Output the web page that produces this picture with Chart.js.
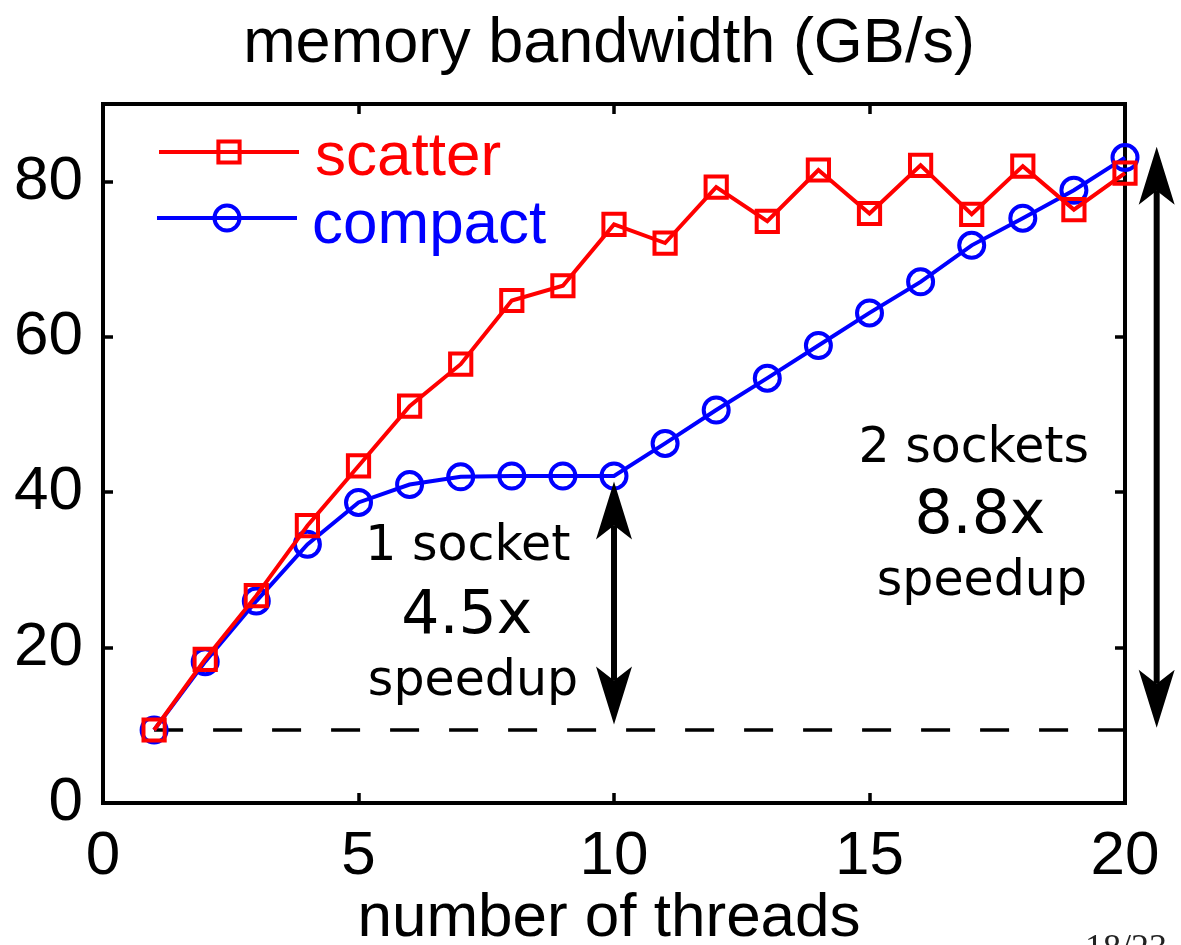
<!DOCTYPE html>
<html>
<head>
<meta charset="utf-8">
<title>memory bandwidth (GB/s)</title>
<script src="https://cdn.jsdelivr.net/npm/chart.js@4/dist/chart.umd.min.js"></script>
<style>
  html, body { margin: 0; padding: 0; background: #fff; }
  #wrap { width: 1181px; height: 945px; position: relative; }
  canvas { display: block; }
</style>
</head>
<body>
<div id="wrap"><canvas id="c" width="1181" height="945"></canvas></div>
<script>
// Measured bandwidth (GB/s) against the number of threads, for two thread placements.
const threads   = [1, 2, 3, 4, 5, 6, 7, 8, 9, 10, 11, 12, 13, 14, 15, 16, 17, 18, 19, 20];
const scatterBW = [9.4, 18.5, 26.7, 35.7, 43.4, 51.1, 56.5, 64.7, 66.6, 74.5,
                   72.1, 79.3, 74.9, 81.5, 75.9, 82.1, 75.8, 82.0, 76.4, 81.1];
const compactBW = [9.4, 18.2, 26.0, 33.3, 38.7, 41.0, 42.0, 42.1, 42.1, 42.1,
                   46.3, 50.6, 54.7, 58.9, 63.1, 67.1, 71.8, 75.3, 78.9, 83.1];

const xTickValues = [0, 5, 10, 15, 20];
const yTickValues = [0, 20, 40, 60, 80];

// Single-thread bandwidth, used as the reference line for the speedups.
const oneThreadBW = compactBW[0];

// Speedup arrows (x position in threads, from/to in GB/s).
const speedupArrows = [
  { x: 10,    from: 10.1, to: 41.4 },
  { x: 20.62, from: 9.7,  to: 84.5 }
];

// Speedup captions, anchored in data units (text baseline).
const speedupNotes = [
  { x: 7.14,  y: 31.35, text: '1 socket',  big: false },
  { x: 7.12,  y: 21.9,  text: '4.5x',      big: true  },
  { x: 7.24,  y: 13.9,  text: 'speedup',   big: false },
  { x: 17.04, y: 43.9,  text: '2 sockets', big: false },
  { x: 17.16, y: 34.8,  text: '8.8x',      big: true  },
  { x: 17.2,  y: 26.8,  text: 'speedup',   big: false }
];

const RED = '#ff0000';
const BLUE = '#0000ff';
const SANS = '"Liberation Sans", Arial, Helvetica, sans-serif';
const NOTE_FONT = '"DejaVu Sans", sans-serif';

const toPoints = (xs, ys) => xs.map((v, i) => ({ x: v, y: ys[i] }));

// Boxed axes with inward tick marks on all four sides.
const framePlugin = {
  id: 'frame',
  beforeDatasetsDraw(chart) {
    const { ctx, chartArea: a, scales: { x, y } } = chart;
    const len = 10;
    ctx.save();
    ctx.strokeStyle = '#000';
    ctx.lineWidth = 3.5;
    ctx.lineCap = 'butt';
    ctx.beginPath();
    x.ticks.forEach(t => {
      const px = Math.round(x.getPixelForValue(t.value));
      ctx.moveTo(px, a.bottom); ctx.lineTo(px, a.bottom - len);
      ctx.moveTo(px, a.top);    ctx.lineTo(px, a.top + len);
    });
    y.ticks.forEach(t => {
      const py = Math.round(y.getPixelForValue(t.value));
      ctx.moveTo(a.left, py);  ctx.lineTo(a.left + len, py);
      ctx.moveTo(a.right, py); ctx.lineTo(a.right - len, py);
    });
    ctx.stroke();
    ctx.lineWidth = 4;
    ctx.lineJoin = 'miter';
    ctx.strokeRect(a.left, a.top, a.right - a.left, a.bottom - a.top);
    ctx.restore();
  }
};

// Title, axis caption, legend, speedup arrows and captions.
const decorPlugin = {
  id: 'decor',
  afterDraw(chart) {
    const { ctx, scales: { x, y } } = chart;
    ctx.save();

    // title
    ctx.fillStyle = '#000';
    ctx.textAlign = 'center';
    ctx.textBaseline = 'alphabetic';
    ctx.font = '63px ' + SANS;
    ctx.fillText('memory bandwidth (GB/s)', 609, 62);

    // x axis caption
    ctx.font = '62px ' + SANS;
    ctx.fillText('number of threads', 609, 936);

    // page number in the corner
    ctx.fillStyle = '#222';
    ctx.font = '36px "Liberation Serif", serif';
    ctx.fillText('18/23', 1126, 959);

    // legend
    const items = [
      { ds: chart.data.datasets[0], lineY: 152, x0: 159, x1: 299, mx: 229, textX: 315, textY: 175 },
      { ds: chart.data.datasets[1], lineY: 218, x0: 157, x1: 297, mx: 227, textX: 312, textY: 243 }
    ];
    items.forEach(it => {
      const ds = it.ds;
      ctx.strokeStyle = ds.borderColor;
      ctx.lineWidth = ds.borderWidth;
      ctx.beginPath();
      ctx.moveTo(it.x0, it.lineY);
      ctx.lineTo(it.x1, it.lineY);
      ctx.stroke();
      ctx.fillStyle = 'rgba(0,0,0,0)';
      ctx.lineWidth = ds.pointBorderWidth;
      Chart.helpers.drawPoint(ctx, {
        pointStyle: ds.pointStyle, radius: ds.pointRadius,
        borderWidth: ds.pointBorderWidth, rotation: 0
      }, it.mx, it.lineY);
      ctx.fillStyle = ds.borderColor;
      ctx.textAlign = 'left';
      ctx.font = '62px ' + SANS;
      ctx.fillText(ds.label, it.textX, it.textY);
    });

    // double-headed speedup arrows
    const L = 58, W = 18, N = 14;
    const head = (px, tip, dir) => {
      ctx.beginPath();
      ctx.moveTo(px, tip);
      ctx.lineTo(px - W, tip - dir * L);
      ctx.lineTo(px, tip - dir * (L - N));
      ctx.lineTo(px + W, tip - dir * L);
      ctx.closePath();
      ctx.fill();
    };
    ctx.fillStyle = '#000';
    ctx.strokeStyle = '#000';
    speedupArrows.forEach(ar => {
      const px = x.getPixelForValue(ar.x);
      const top = y.getPixelForValue(ar.to);
      const bot = y.getPixelForValue(ar.from);
      ctx.lineWidth = 6;
      ctx.beginPath();
      ctx.moveTo(px, top + (L - N));
      ctx.lineTo(px, bot - (L - N));
      ctx.stroke();
      head(px, top, -1);
      head(px, bot, 1);
    });

    // speedup captions
    ctx.textAlign = 'center';
    ctx.textBaseline = 'alphabetic';
    speedupNotes.forEach(n => {
      ctx.font = (n.big ? '60px ' : '49px ') + NOTE_FONT;
      ctx.fillText(n.text, x.getPixelForValue(n.x), y.getPixelForValue(n.y));
    });

    ctx.restore();
  }
};

new Chart(document.getElementById('c'), {
  type: 'line',
  data: {
    datasets: [
      {
        label: 'scatter',
        data: toPoints(threads, scatterBW),
        borderColor: RED,
        borderWidth: 4,
        pointStyle: 'rect',
        pointRadius: 15,
        pointBorderWidth: 4,
        pointBorderColor: RED,
        pointBackgroundColor: 'rgba(0,0,0,0)',
        tension: 0,
        clip: false
      },
      {
        label: 'compact',
        data: toPoints(threads, compactBW),
        borderColor: BLUE,
        borderWidth: 4,
        pointStyle: 'circle',
        pointRadius: 12.5,
        pointBorderWidth: 4,
        pointBorderColor: BLUE,
        pointBackgroundColor: 'rgba(0,0,0,0)',
        tension: 0,
        clip: false
      },
      {
        label: 'one thread',
        data: [{ x: threads[0], y: oneThreadBW }, { x: threads[threads.length - 1], y: oneThreadBW }],
        borderColor: '#000',
        borderWidth: 3.5,
        borderDash: [29, 30],
        pointRadius: 0,
        tension: 0
      }
    ]
  },
  options: {
    responsive: false,
    animation: false,
    devicePixelRatio: 1,
    events: [],
    layout: { padding: { top: 104, right: 56, left: 0, bottom: 0 } },
    plugins: {
      legend: { display: false },
      tooltip: { enabled: false },
      title: { display: false }
    },
    scales: {
      x: {
        type: 'linear',
        min: 0, max: 20,
        grid: { display: false, drawTicks: false },
        border: { display: false },
        afterBuildTicks: s => { s.ticks = xTickValues.map(v => ({ value: v })); },
        afterFit: s => { s.height = 142; },
        ticks: {
          color: '#000',
          font: { family: SANS, size: 62 },
          padding: 17,
          maxRotation: 0,
          autoSkip: false
        }
      },
      y: {
        type: 'linear',
        min: 0, max: 90,
        grid: { display: false, drawTicks: false },
        border: { display: false },
        afterBuildTicks: s => { s.ticks = yTickValues.map(v => ({ value: v })); },
        afterFit: s => { s.width = 103; },
        ticks: {
          color: '#000',
          font: { family: SANS, size: 62 },
          padding: 20
        }
      }
    }
  },
  plugins: [framePlugin, decorPlugin]
});
</script>
</body>
</html>
